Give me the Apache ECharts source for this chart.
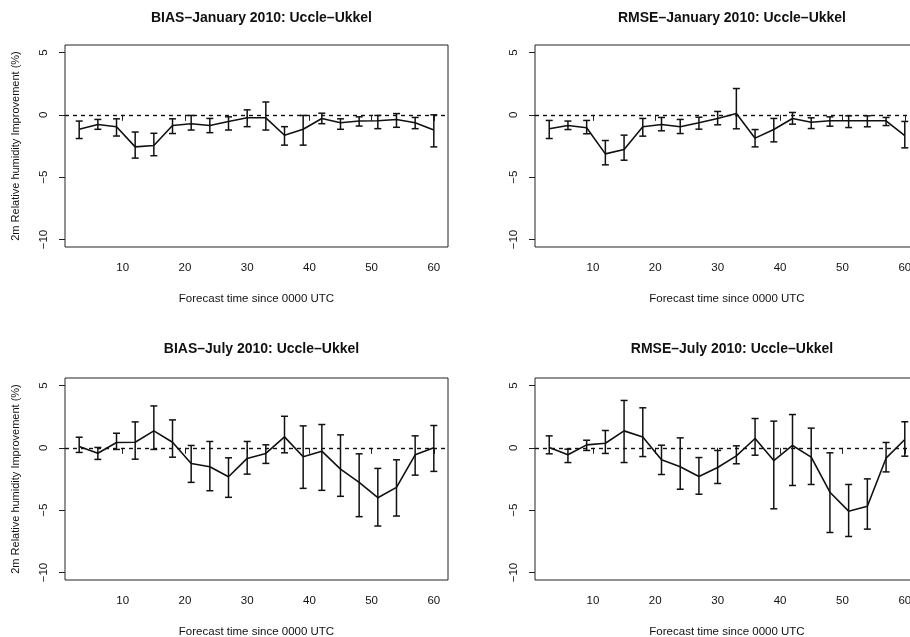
<!DOCTYPE html>
<html>
<head>
<meta charset="utf-8">
<script src="https://cdn.jsdelivr.net/npm/echarts@6/dist/echarts.min.js"></script>
<style>
  html, body { margin: 0; padding: 0; background: #fff; }
  #chart { width: 910px; height: 637px; }
</style>
</head>
<body>
<div id="chart"></div>
<script>
// Forecast lead times (hours since 0000 UTC)
const hours = [3, 6, 9, 12, 15, 18, 21, 24, 27, 30, 33, 36, 39, 42, 45, 48, 51, 54, 57, 60];
const xTicks = [10, 20, 30, 40, 50, 60];
const yTicks = [-10, -5, 0, 5];

const panelTitles = [
  'BIAS\u2013January 2010: Uccle\u2013Ukkel',
  'RMSE\u2013January 2010: Uccle\u2013Ukkel',
  'BIAS\u2013July 2010: Uccle\u2013Ukkel',
  'RMSE\u2013July 2010: Uccle\u2013Ukkel'
];
const xAxisTitle = 'Forecast time since 0000 UTC';
const yAxisTitle = '2m Relative humidity Improvement (%)';

// BIAS, January 2010
const biasJanMean = [-1.16, -0.77, -0.95, -2.57, -2.46, -0.85, -0.71, -0.85, -0.53, -0.24, -0.24, -1.64, -1.16, -0.29, -0.63, -0.50, -0.48, -0.37, -0.63, -1.22];
const biasJanLow  = [-1.90, -1.16, -1.70, -3.47, -3.28, -1.50, -1.22, -1.43, -1.22, -0.95, -1.22, -2.43, -2.43, -0.71, -1.16, -0.90, -1.11, -1.00, -1.11, -2.57];
const biasJanHigh = [-0.50, -0.37, -0.32, -1.38, -1.48, -0.32, -0.05, -0.29, -0.16, 0.40, 1.03, -0.95, -0.05, 0.13, -0.32, -0.16, -0.05, 0.10, -0.21, 0.00];

// RMSE, January 2010
const rmseJanMean = [-1.12, -0.86, -1.04, -3.13, -2.78, -0.96, -0.78, -0.96, -0.64, -0.29, 0.11, -1.87, -1.18, -0.29, -0.59, -0.48, -0.48, -0.48, -0.48, -1.66];
const rmseJanLow  = [-1.90, -1.18, -1.52, -4.01, -3.64, -1.71, -1.28, -1.50, -1.15, -0.80, -1.12, -2.57, -2.17, -0.75, -1.10, -0.91, -1.02, -0.96, -0.86, -2.65];
const rmseJanHigh = [-0.45, -0.50, -0.45, -2.06, -1.63, -0.29, -0.21, -0.37, -0.19, 0.27, 2.11, -1.18, -0.29, 0.19, -0.24, -0.16, -0.08, -0.08, -0.21, -0.53];

// BIAS, July 2010
const biasJulMean = [0.11, -0.43, 0.43, 0.45, 1.36, 0.45, -1.25, -1.52, -2.32, -0.85, -0.45, 0.88, -0.72, -0.27, -1.71, -2.77, -4.00, -3.17, -0.56, 0.00];
const biasJulLow  = [-0.37, -0.93, -0.13, -0.91, -0.13, -0.75, -2.77, -3.44, -3.97, -2.11, -1.25, -0.40, -3.25, -3.41, -3.89, -5.52, -6.27, -5.47, -2.19, -1.89];
const biasJulHigh = [0.85, 0.03, 1.17, 2.08, 3.36, 2.24, 0.19, 0.51, -0.80, 0.51, 0.24, 2.53, 1.76, 1.87, 1.04, -0.48, -1.65, -0.96, 0.96, 1.79];

// RMSE, July 2010
const rmseJulMean = [0.03, -0.56, 0.24, 0.37, 1.36, 0.86, -0.96, -1.52, -2.30, -1.58, -0.64, 0.75, -1.02, 0.19, -0.75, -3.56, -5.08, -4.68, -0.83, 0.67];
const rmseJulLow  = [-0.48, -1.18, -0.21, -0.45, -1.18, -0.70, -2.14, -3.32, -3.72, -2.86, -1.28, -0.59, -4.89, -3.02, -2.94, -6.79, -7.11, -6.52, -1.93, -0.67];
const rmseJulHigh = [0.96, -0.11, 0.61, 1.39, 3.80, 3.21, 0.21, 0.80, -0.78, -0.21, 0.16, 2.35, 2.14, 2.67, 1.58, -0.40, -2.94, -2.49, 0.43, 2.09];

const panels = [
  { mean: biasJanMean, low: biasJanLow, high: biasJanHigh },
  { mean: rmseJanMean, low: rmseJanLow, high: rmseJanHigh },
  { mean: biasJulMean, low: biasJulLow, high: biasJulHigh },
  { mean: rmseJulMean, low: rmseJulLow, high: rmseJulHigh }
];

const FONT = "'Liberation Sans', Arial, Helvetica, sans-serif";
const INK = '#111';

// Plot-region boxes (left column, right column; top row, bottom row).
// The right column runs past the canvas edge, so its frame is cut off.
const boxes = [
  { left: 65,  top: 45,  width: 383, height: 202 },
  { left: 535, top: 45,  width: 384, height: 202 },
  { left: 65,  top: 378, width: 383, height: 202 },
  { left: 535, top: 378, width: 384, height: 202 }
];

const minusFmt = v => String(v).replace('-', '\u2212');

const grids = [], xAxes = [], yAxes = [], series = [], titles = [];

boxes.forEach((b, i) => {
  grids.push({
    left: b.left, top: b.top, width: b.width, height: b.height,
    containLabel: false, outerBoundsMode: 'none',
    show: true, borderColor: '#222', borderWidth: 1, backgroundColor: 'transparent'
  });
  titles.push({
    text: panelTitles[i],
    left: b.left + b.width / 2,
    top: i < 2 ? 6 : 337,
    textAlign: 'center',
    textStyle: { fontFamily: FONT, fontSize: 14, fontWeight: 'bold', color: INK }
  });
  xAxes.push({
    type: 'value', gridIndex: i, min: 0.72, max: 62.28,
    axisLine: { show: false },
    axisTick: { show: true, length: 6, customValues: xTicks, lineStyle: { color: '#222', width: 1 } },
    axisLabel: { customValues: xTicks, margin: 15, fontFamily: FONT, fontSize: 11.5, color: INK },
    splitLine: { show: false },
    name: xAxisTitle, nameLocation: 'middle', nameGap: 46,
    nameTextStyle: { fontFamily: FONT, fontSize: 11.5, color: INK }
  });
  yAxes.push({
    type: 'value', gridIndex: i, min: -10.6, max: 5.6,
    axisLine: { show: false },
    axisTick: { show: true, length: 6, customValues: yTicks, lineStyle: { color: '#222', width: 1 } },
    axisLabel: { customValues: yTicks, rotate: 90, margin: 15, fontFamily: FONT, fontSize: 11.5, color: INK, formatter: minusFmt },
    splitLine: { show: false },
    name: (i % 2 === 0) ? yAxisTitle : '', nameLocation: 'middle', nameGap: 44, nameRotate: 90,
    nameTextStyle: { fontFamily: FONT, fontSize: 11, color: INK }
  });

  const p = panels[i];
  const lineData = hours.map((h, k) => [h, p.mean[k]]);
  const barData = hours.map((h, k) => [h, p.low[k], p.high[k]]);

  // mean curve with the dashed zero reference
  series.push({
    type: 'line', xAxisIndex: i, yAxisIndex: i, data: lineData,
    showSymbol: false, symbol: 'none', silent: true, animation: false,
    lineStyle: { color: '#111', width: 1.6 },
    markLine: {
      silent: true, symbol: 'none', animation: false, label: { show: false },
      lineStyle: { color: '#111', width: 1.4, type: [4, 4] },
      data: [{ yAxis: 0 }]
    },
    z: 3
  });

  // error bars with flat caps
  series.push({
    type: 'custom', xAxisIndex: i, yAxisIndex: i, data: barData, silent: true, animation: false,
    encode: { x: 0, y: [1, 2] },
    renderItem: (params, api) => {
      const x = api.value(0);
      const lo = api.coord([x, api.value(1)]);
      const hi = api.coord([x, api.value(2)]);
      const w = 3.5;
      const st = { stroke: '#111', lineWidth: 1.5 };
      return {
        type: 'group',
        children: [
          { type: 'line', shape: { x1: lo[0], y1: lo[1], x2: hi[0], y2: hi[1] }, style: st },
          { type: 'line', shape: { x1: lo[0] - w, y1: lo[1], x2: lo[0] + w, y2: lo[1] }, style: st },
          { type: 'line', shape: { x1: hi[0] - w, y1: hi[1], x2: hi[0] + w, y2: hi[1] }, style: st }
        ]
      };
    },
    z: 4
  });
});

const chart = echarts.init(document.getElementById('chart'), null, { renderer: 'canvas' });
chart.setOption({
  backgroundColor: '#fff',
  animation: false,
  title: titles,
  grid: grids,
  xAxis: xAxes,
  yAxis: yAxes,
  series: series
});
</script>
</body>
</html>
